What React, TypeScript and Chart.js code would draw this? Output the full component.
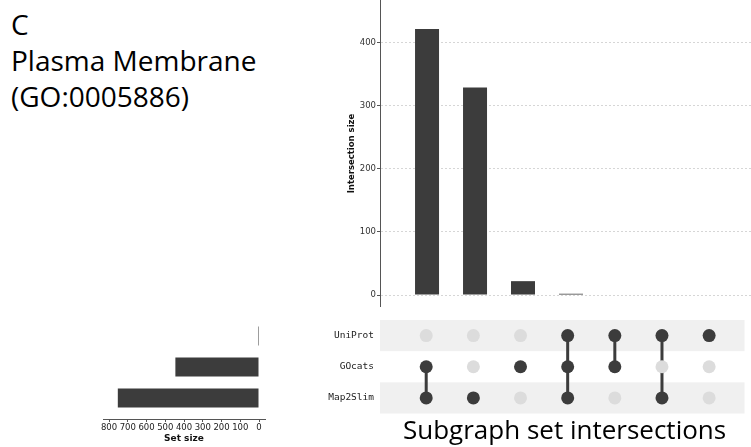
import React, { useEffect, useRef } from "react";
import { Chart, registerables } from "chart.js";

Chart.register(...registerables);

// ---- data ----
const setNames = ["UniProt", "GOcats", "Map2Slim"];
const setSizes = [2, 446, 753];
const intersectionSizes = [422, 329, 22, 2, 0, 0, 0];
const intersectionMembers = [
  ["GOcats", "Map2Slim"],
  ["Map2Slim"],
  ["GOcats"],
  ["UniProt", "GOcats", "Map2Slim"],
  ["UniProt", "GOcats"],
  ["UniProt", "Map2Slim"],
  ["UniProt"],
];
const intersectionTicks = [0, 100, 200, 300, 400];
const setSizeTicks = [0, 100, 200, 300, 400, 500, 600, 700, 800];

const DARK = "#3c3c3c";
const LIGHT_DOT = "#dcdcdc";
const BAND = "#f0f0f0";
const X_MIN = -0.98;
const X_MAX = 6.75;

const rowOf = (name: string) => setNames.length - 1 - setNames.indexOf(name);

const noPad = (s: any) => {
  s.paddingTop = 0;
  s.paddingBottom = 0;
  s.paddingLeft = 0;
  s.paddingRight = 0;
};

const bandPlugin = {
  id: "bands",
  beforeDatasetsDraw(chart: any) {
    const { ctx, chartArea, scales } = chart;
    const y = scales.y;
    ctx.save();
    ctx.fillStyle = BAND;
    setNames.forEach((name, i) => {
      if (i % 2 !== 0) return;
      const r = rowOf(name);
      const top = y.getPixelForValue(r + 0.5);
      const bot = y.getPixelForValue(r - 0.5);
      ctx.fillRect(chartArea.left, top, chartArea.right - chartArea.left, bot - top);
    });
    ctx.restore();
  },
};

function IntersectionBars() {
  const ref = useRef<HTMLCanvasElement>(null);
  useEffect(() => {
    const chart = new Chart(ref.current!, {
      type: "bar",
      data: {
        datasets: [
          {
            data: intersectionSizes.map((v, i) => ({ x: i, y: v })),
            backgroundColor: DARK,
            barThickness: 24,
            borderWidth: 0,
            inflateAmount: 0,
          },
        ],
      },
      options: {
        responsive: false,
        animation: false,
        layout: { padding: 0 },
        plugins: { legend: { display: false }, tooltip: { enabled: false } },
        scales: {
          x: { type: "linear", min: X_MIN, max: X_MAX, display: false, offset: false },
          y: {
            type: "linear",
            min: -19,
            max: 468,
            afterFit(s: any) {
              s.width = 80;
              noPad(s);
            },
            afterBuildTicks(s: any) {
              s.ticks = intersectionTicks.map((v) => ({ value: v }));
            },
            grid: { color: "#d6d6d6", drawTicks: true, tickLength: 3, tickColor: "#555" },
            border: { display: true, color: "#555", width: 1, dash: [2, 2] },
            ticks: { font: { family: "DejaVu Sans", size: 8.5 }, color: "#333", padding: 1 },
            title: {
              display: true,
              text: "Intersection size",
              font: { family: "DejaVu Sans", size: 8.5, weight: "bold" },
              color: "#111",
              padding: { top: 47, bottom: 0 },
            },
          },
        },
      } as any,
    });
    return () => chart.destroy();
  }, []);
  return (
    <canvas
      ref={ref}
      width={451}
      height={307}
      style={{ position: "absolute", left: 300, top: 0, width: 451, height: 307 }}
    />
  );
}

function Matrix() {
  const ref = useRef<HTMLCanvasElement>(null);
  useEffect(() => {
    const grey: any[] = [];
    const dark: any[] = [];
    const lines: any[] = [];
    intersectionMembers.forEach((members, col) => {
      setNames.forEach((name) => {
        const p = { x: col, y: rowOf(name) };
        if (members.includes(name)) dark.push(p);
        else grey.push(p);
      });
      if (members.length > 1) {
        const rows = members.map(rowOf);
        lines.push({
          data: [
            { x: col, y: Math.min(...rows) },
            { x: col, y: Math.max(...rows) },
          ],
          showLine: true,
          borderColor: DARK,
          borderWidth: 3,
          pointRadius: 0,
          order: 2,
        });
      }
    });
    const chart = new Chart(ref.current!, {
      type: "scatter",
      data: {
        datasets: [
          { data: grey, pointRadius: 6.5, pointBackgroundColor: LIGHT_DOT, pointBorderWidth: 0, order: 1 },
          ...lines,
          { data: dark, pointRadius: 6.5, pointBackgroundColor: DARK, pointBorderWidth: 0, order: 0 },
        ],
      },
      options: {
        responsive: false,
        animation: false,
        layout: { padding: { top: 10, bottom: 6, left: 0, right: 0 } },
        plugins: { legend: { display: false }, tooltip: { enabled: false } },
        scales: {
          x: { type: "linear", min: X_MIN, max: X_MAX, display: false, offset: false },
          y: {
            type: "linear",
            min: -0.5,
            max: 2.5,
            afterFit(s: any) {
              s.width = 80;
              noPad(s);
            },
            afterBuildTicks(s: any) {
              s.ticks = setNames.map((n) => ({ value: rowOf(n) }));
            },
            grid: { display: false, drawTicks: false },
            border: { display: false },
            ticks: {
              font: { family: "DejaVu Sans Mono", size: 9.5 },
              color: "#222",
              padding: 6,
              callback: (v: any) => setNames[setNames.length - 1 - Number(v)],
            },
          },
        },
      } as any,
      plugins: [bandPlugin],
    });
    return () => chart.destroy();
  }, []);
  return (
    <canvas
      ref={ref}
      width={451}
      height={110}
      style={{ position: "absolute", left: 300, top: 310, width: 451, height: 110 }}
    />
  );
}

function SetSizes() {
  const ref = useRef<HTMLCanvasElement>(null);
  useEffect(() => {
    const chart = new Chart(ref.current!, {
      type: "bar",
      data: {
        datasets: [
          {
            data: setSizes.map((v, i) => ({ x: v, y: rowOf(setNames[i]) })),
            backgroundColor: DARK,
            barThickness: 19,
            borderWidth: 0,
            inflateAmount: 0,
            minBarLength: 1,
          },
        ],
      },
      options: {
        indexAxis: "y",
        responsive: false,
        animation: false,
        layout: { padding: { top: 10, left: 13, right: 15, bottom: 0 } },
        plugins: { legend: { display: false }, tooltip: { enabled: false } },
        scales: {
          y: { type: "linear", min: -0.677, max: 2.516, display: false, offset: false },
          x: {
            type: "linear",
            reverse: true,
            min: -32,
            max: 832,
            position: "bottom",
            afterFit(s: any) {
              s.height = 28;
              noPad(s);
            },
            afterBuildTicks(s: any) {
              s.ticks = setSizeTicks.map((v) => ({ value: v }));
            },
            grid: { display: true, drawOnChartArea: false, drawTicks: true, tickLength: 3, tickColor: "#555" },
            border: { display: true, color: "#555", width: 1 },
            ticks: {
              font: { family: "DejaVu Sans", size: 8.5 },
              color: "#222",
              padding: 1,
              maxRotation: 0,
              autoSkip: false,
            },
            title: {
              display: true,
              text: "Set size",
              font: { family: "DejaVu Sans", size: 9, weight: "bold" },
              color: "#111",
              padding: { top: 0, bottom: 3 },
            },
          },
        },
      } as any,
    });
    return () => chart.destroy();
  }, []);
  return (
    <canvas
      ref={ref}
      width={190}
      height={137}
      style={{ position: "absolute", left: 90, top: 310, width: 190, height: 137 }}
    />
  );
}

const bigText: React.CSSProperties = {
  position: "absolute",
  fontFamily: "'Open Sans', sans-serif",
  color: "#000",
  whiteSpace: "nowrap",
};

export default function App() {
  return (
    <div
      style={{
        position: "absolute",
        left: 0,
        top: 0,
        width: 751,
        height: 447,
        background: "#fff",
        overflow: "hidden",
      }}
    >
      <div style={{ ...bigText, left: 11, top: 10, fontSize: 28, lineHeight: "28px" }}>C</div>
      <div style={{ ...bigText, left: 11, top: 46, fontSize: 28, lineHeight: "28px" }}>Plasma Membrane</div>
      <div style={{ ...bigText, left: 11, top: 82, fontSize: 28, lineHeight: "28px" }}>(GO:0005886)</div>
      <IntersectionBars />
      <Matrix />
      <SetSizes />
      <div style={{ ...bigText, left: 403, top: 416, fontSize: 26, lineHeight: "26px" }}>
        Subgraph set intersections
      </div>
    </div>
  );
}
